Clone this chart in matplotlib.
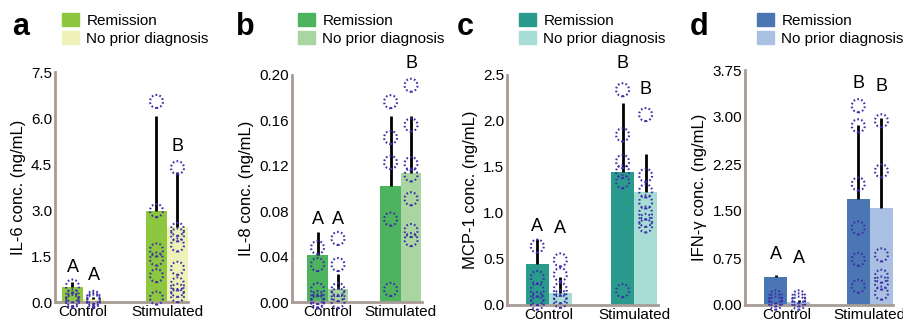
import numpy as np
import matplotlib
matplotlib.use("Agg")
import matplotlib.pyplot as plt
from matplotlib.patches import Patch

plt.rcParams['font.family'] = ['Liberation Sans', 'DejaVu Sans']

groups = ["Control", "Stimulated"]
series = ["Remission", "No prior diagnosis"]

# IL-6
il6_mean = [[0.49, 2.98], [0.10, 2.43]]
il6_err = [[0.15, 3.08], [0.06, 1.80]]
il6_pts = [[[0.52, 0.20, 0.08, 0.02], [6.54, 2.98, 1.70, 1.40, 0.86, 0.13]],
           [[0.15, 0.08, 0.03], [4.38, 2.37, 2.19, 1.86, 1.10, 0.59, 0.38, 0.21]]]
il6_letters = [["A", ""], ["A", "B"]]
il6_letter_y = [[0.85, 0], [0.60, 4.8]]

# IL-8
il8_mean = [[0.0416, 0.1026], [0.0114, 0.114]]
il8_err = [[0.020, 0.061], [0.013, 0.050]]
il8_pts = [[[0.048, 0.033, 0.011, 0.004, 0.001, 0.0], [0.1765, 0.145, 0.123, 0.073, 0.011]],
           [[0.056, 0.033, 0.011, 0.0065, 0.0006], [0.191, 0.156, 0.122, 0.112, 0.091, 0.063, 0.055]]]
il8_letters = [["A", ""], ["A", "B"]]
il8_letter_y = [[0.065, 0], [0.065, 0.203]]

# MCP-1
mcp_mean = [[0.442, 1.446], [0.127, 1.225]]
mcp_err = [[0.27, 0.75], [0.18, 0.42]]
mcp_pts = [[[0.64, 0.30, 0.163, 0.07, 0.02], [2.34, 1.85, 1.56, 1.45, 1.34, 0.156]],
           [[0.49, 0.33, 0.17, 0.09, 0.04], [2.07, 1.41, 1.24, 1.12, 1.00, 0.92, 0.86]]]
mcp_letters = [["A", "B"], ["A", "B"]]
mcp_letter_y = [[0.76, 2.53], [0.74, 2.25]]

# IFN-y
ifn_mean = [[0.452, 1.69], [0.053, 1.54]]
ifn_err = [[0.03, 1.18], [0.03, 1.44]]
ifn_pts = [[[0.13, 0.08, 0.03], [3.18, 2.86, 1.93, 1.23, 0.73, 0.30]],
           [[0.13, 0.08, 0.03], [2.94, 2.14, 0.80, 0.46, 0.35, 0.19]]]
ifn_letters = [["A", "B"], ["A", "B"]]
ifn_letter_y = [[0.67, 3.40], [0.61, 3.35]]

panels = [
    dict(tag="a", ylabel="IL-6 conc. (ng/mL)", mean=il6_mean, err=il6_err, pts=il6_pts,
         letters=il6_letters, ly=il6_letter_y, yticks=[0, 1.5, 3.0, 4.5, 6.0, 7.5], fmt="%.1f",
         colors=["#8dc63f", "#eef2b8"], box=(55, 188, 72, 302), w=0.25, xlim=(-0.333, 1.25),
         tagx=12, legx=62),
    dict(tag="b", ylabel="IL-8 conc. (ng/mL)", mean=il8_mean, err=il8_err, pts=il8_pts,
         letters=il8_letters, ly=il8_letter_y, yticks=[0, 0.04, 0.08, 0.12, 0.16, 0.20], fmt="%.2f",
         colors=["#4db35f", "#a8d5a0"], box=(292, 422, 75, 302), w=0.28, xlim=(-0.49, 1.29),
         tagx=236, legx=298),
    dict(tag="c", ylabel="MCP-1 conc. (ng/mL)", mean=mcp_mean, err=mcp_err, pts=mcp_pts,
         letters=mcp_letters, ly=mcp_letter_y, yticks=[0, 0.5, 1.0, 1.5, 2.0, 2.5], fmt="%.1f",
         colors=["#2a9a8c", "#a8ddd6"], box=(507, 658, 75, 305), w=0.27, xlim=(-0.49, 1.28),
         tagx=457, legx=519),
    dict(tag="d", ylabel="IFN-γ conc. (ng/mL)", mean=ifn_mean, err=ifn_err, pts=ifn_pts,
         letters=ifn_letters, ly=ifn_letter_y, yticks=[0, 0.75, 1.5, 2.25, 3.0, 3.75], fmt="%.2f",
         colors=["#4a77b4", "#a9c0e2"], box=(745, 893, 70, 305), w=0.28, xlim=(-0.51, 1.28),
         tagx=690, legx=757),
]

W, H = 904, 322
fig = plt.figure(figsize=(W / 100, H / 100), dpi=100)
spine_col = "#a89c94"
dot_col = "#3a30a8"

for p in panels:
    l, r, t, b = p["box"]
    ax = fig.add_axes([l / W, (H - b) / H, (r - l) / W, (b - t) / H])
    x = np.arange(len(groups))
    w = p["w"]
    for k in range(2):
        xs = x + (k - 0.5) * w
        ax.bar(xs, p["mean"][k], width=w, color=p["colors"][k], zorder=1)
        ax.errorbar(xs, p["mean"][k], yerr=[np.zeros(2), p["err"][k]], fmt="none",
                    ecolor="black", elinewidth=2, capsize=0, zorder=2)
        for g in range(2):
            vals = p["pts"][k][g]
            ax.scatter([xs[g]] * len(vals), vals, s=88, facecolors="none", edgecolors=dot_col,
                       linewidths=1.5, linestyle=(0, (0.8, 1.1)), zorder=3, clip_on=False)
            if p["letters"][k][g]:
                ax.text(xs[g], p["ly"][k][g], p["letters"][k][g], ha="center", va="bottom",
                        fontsize=13, clip_on=False)
    ax.set_xlim(*p["xlim"])
    ax.set_ylim(0, p["yticks"][-1])
    ax.set_yticks(p["yticks"])
    ax.set_yticklabels([p["fmt"] % v for v in p["yticks"]])
    ax.set_xticks(x)
    ax.set_xticklabels(groups)
    ax.tick_params(length=0, labelsize=11, pad=2)
    ax.set_ylabel(p["ylabel"], fontsize=12, labelpad=4)
    for s in ["top", "right"]:
        ax.spines[s].set_visible(False)
    for s in ["left", "bottom"]:
        ax.spines[s].set_color(spine_col)
        ax.spines[s].set_linewidth(2)
    fig.text(p["tagx"] / W, 1 - 35 / H, p["tag"], fontsize=22, fontweight="bold", va="baseline")
    handles = [Patch(color=c) for c in p["colors"]]
    fig.legend(handles, series, loc="upper left", bbox_to_anchor=(p["legx"] / W, 1 - 13 / H),
               frameon=False, fontsize=11, handlelength=1.1, handleheight=0.9,
               handletextpad=0.5, labelspacing=0.25, borderpad=0, borderaxespad=0)

fig.savefig("out.png", dpi=100)
